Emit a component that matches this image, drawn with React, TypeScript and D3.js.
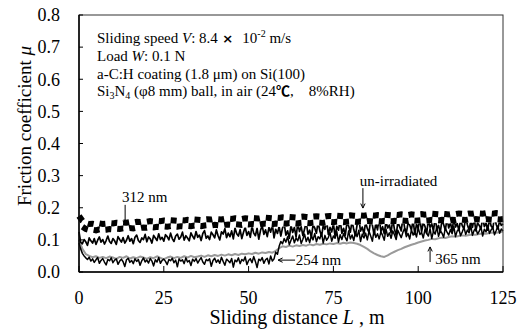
import React from 'react';
import * as d3 from 'd3';

// Sliding distance grids: every 1 m and every 0.5 m, 0..125
const distance1: number[] = d3.range(0, 125.001, 1);
const distanceHalf: number[] = d3.range(0, 125.001, 0.5);

// un-irradiated (checkered band centre), 1 m steps
const unIrradiated: number[] = [
  .165, .150, .143, .140, .141, .139, .142, .140, .141, .143,
  .142, .144, .143, .145, .144, .146, .145, .147, .146, .148,
  .147, .149, .148, .150, .149, .151, .150, .152, .151, .150,
  .152, .151, .153, .152, .154, .153, .152, .154, .155, .154,
  .156, .155, .154, .156, .157, .156, .158, .157, .156, .158,
  .157, .159, .158, .157, .159, .160, .159, .158, .160, .159,
  .161, .160, .162, .161, .160, .162, .163, .162, .161, .163,
  .164, .163, .162, .164, .165, .164, .166, .165, .164, .166,
  .167, .166, .165, .167, .166, .168, .167, .166, .168, .167,
  .169, .168, .167, .169, .168, .170, .169, .168, .170, .169,
  .170, .171, .169, .170, .172, .171, .170, .172, .171, .170,
  .172, .171, .173, .172, .171, .173, .172, .174, .173, .172,
  .174, .173, .172, .174, .173, .174,
];

// 312 nm irradiated, 0.5 m steps
const nm312: number[] = [
  .125, .092, .088, .101, .094, .083, .106, .097, .090, .104,
  .086, .099, .109, .093, .101, .087, .098, .112, .095, .089,
  .104, .097, .086, .110, .101, .093, .107, .090, .099, .113,
  .096, .104, .088, .108, .115, .098, .092, .106, .101, .117,
  .094, .109, .103, .090, .114, .106, .098, .119, .101, .108,
  .096, .116, .110, .100, .121, .104, .095, .112, .118, .102,
  .109, .124, .099, .113, .106, .097, .122, .111, .103, .126,
  .108, .115, .098, .120, .129, .105, .112, .101, .124, .116,
  .106, .131, .113, .100, .125, .118, .135, .107, .121, .110,
  .128, .103, .137, .119, .112, .132, .104, .124, .140, .114,
  .126, .108, .143, .121, .113, .136, .102, .129, .145, .117,
  .131, .110, .139, .124, .148, .106, .133, .120, .142, .112,
  .137, .150, .115, .128, .105, .146, .123, .139, .109, .152,
  .126, .141, .113, .134, .155, .118, .130, .108, .147, .137,
  .121, .157, .128, .112, .144, .133, .160, .117, .139, .125,
  .151, .110, .142, .130, .162, .120, .136, .115, .154, .143,
  .124, .159, .132, .113, .148, .166, .127, .140, .118, .156,
  .135, .123, .163, .145, .116, .152, .131, .168, .126, .141,
  .119, .158, .137, .147, .122, .165, .133, .114, .155, .142,
  .128, .170, .138, .121, .153, .146, .131, .162, .117, .149,
  .136, .167, .125, .154, .142, .120, .164, .139, .150, .127,
  .171, .133, .145, .123, .160, .148, .130, .166, .137, .155,
  .126, .169, .140, .151, .129, .163, .144, .134, .172, .147,
  .131, .158, .139, .168, .128, .153, .145, .133, .170, .141,
  .152, .130, .165, .143, .136, .171, .148, .134, .160, .145,
  .150,
];

// 254 nm irradiated, 0.5 m steps
const nm254: number[] = [
  .090, .072, .058, .050, .044, .039, .046, .034, .041, .030,
  .038, .045, .027, .036, .042, .031, .022, .039, .035, .044,
  .029, .037, .041, .024, .034, .040, .032, .017, .038, .043,
  .030, .036, .026, .041, .033, .039, .021, .035, .044, .031,
  .037, .028, .042, .034, .019, .038, .031, .045, .027, .036,
  .040, .033, .023, .039, .035, .043, .029, .037, .016, .041,
  .034, .038, .026, .044, .031, .036, .020, .040, .033, .042,
  .028, .037, .045, .031, .024, .039, .035, .041, .018, .036,
  .043, .030, .038, .027, .046, .033, .021, .040, .035, .029,
  .042, .015, .037, .032, .044, .026, .039, .034, .047, .023,
  .036, .041, .029, .048, .033, .014, .040, .035, .045, .027,
  .038, .043, .025, .050, .034, .041, .062, .055, .080, .095,
  .088, .104, .093, .110, .085, .099, .112, .091, .106, .097,
  .115, .089, .102, .118, .095, .108, .092, .113, .100, .120,
  .094, .110, .103, .122, .090, .114, .099, .107, .124, .096,
  .112, .105, .126, .093, .116, .101, .119, .108, .097, .128,
  .103, .115, .098, .124, .110, .130, .095, .118, .106, .121,
  .100, .127, .112, .096, .132, .108, .119, .103, .125, .114,
  .099, .134, .111, .122, .105, .128, .116, .101, .130, .118,
  .107, .124, .136, .110, .120, .103, .131, .115, .126, .109,
  .138, .117, .123, .106, .133, .120, .112, .135, .104, .127,
  .118, .140, .111, .129, .121, .108, .137, .124, .115, .132,
  .119, .142, .110, .128, .134, .113, .125, .139, .117, .131,
  .122, .144, .114, .130, .136, .118, .127, .141, .112, .133,
  .125, .145, .120, .131, .138, .116, .129, .143, .121, .134,
  .128,
];

// 365 nm irradiated (grey), 1 m steps
const nm365: number[] = [
  .100, .072, .056, .050, .046, .049, .044, .047, .043, .048,
  .045, .041, .047, .044, .049, .042, .046, .043, .048, .045,
  .041, .046, .043, .049, .044, .040, .045, .048, .043, .047,
  .044, .049, .045, .050, .046, .048, .051, .047, .052, .049,
  .053, .050, .054, .051, .055, .052, .056, .053, .057, .055,
  .058, .056, .060, .057, .061, .059, .062, .060, .066, .074,
  .080, .078, .082, .079, .083, .081, .084, .082, .086, .083,
  .087, .085, .088, .086, .089, .087, .090, .088, .091, .089,
  .092, .090, .088, .084, .078, .072, .064, .058, .053, .049,
  .047, .052, .058, .063, .068, .072, .077, .081, .085, .088,
  .092, .095, .098, .100, .103, .102, .105, .107, .106, .109,
  .111, .110, .112, .114, .113, .115, .117, .116, .118, .120,
  .119, .121, .123, .122, .124, .126,
];

const xTicks: number[] = [0, 25, 50, 75, 100, 125];
const yTicks: number[] = [0, 0.1, 0.2, 0.3, 0.4, 0.5, 0.6, 0.7, 0.8];

// Arrow annotations in data coordinates
type Ann = { label: string; x1: number; y1: number; x2: number; y2: number; lx: number; ly: number };
const annotations: Ann[] = [
  { label: '312 nm', x1: 13.6, y1: 0.209, x2: 13.6, y2: 0.146, lx: 12.7, ly: 0.218 },
  { label: 'un-irradiated', x1: 83.7, y1: 0.261, x2: 83.7, y2: 0.199, lx: 82.8, ly: 0.268 },
  { label: '254 nm', x1: 63.7, y1: 0.037, x2: 58.7, y2: 0.037, lx: 63.9, ly: 0.022 },
  { label: '365 nm', x1: 103.5, y1: 0.031, x2: 103.5, y2: 0.078, lx: 105.0, ly: 0.025 },
];

const W = 519;
const H = 336;
const X0 = 79, X1 = 503, Y0 = 272, Y1 = 15;
const FONT = "'Liberation Serif', 'Times New Roman', serif";

export default function App() {
  const x = d3.scaleLinear().domain([0, 125]).range([X0, X1]);
  const y = d3.scaleLinear().domain([0, 0.8]).range([Y0, Y1]);
  const line1 = d3
    .line<number>()
    .x((_, i) => x(distance1[i]))
    .y((d) => y(d));
  const lineHalf = d3
    .line<number>()
    .x((_, i) => x(distanceHalf[i]))
    .y((d) => y(d));

  const arrowHead = (a: Ann) => {
    const px = x(a.x2), py = y(a.y2);
    const ang = Math.atan2(py - y(a.y1), px - x(a.x1));
    const L = 5, s = 0.45;
    const p1 = [px - L * Math.cos(ang - s), py - L * Math.sin(ang - s)];
    const p2 = [px - L * Math.cos(ang + s), py - L * Math.sin(ang + s)];
    return `M${p1[0]},${p1[1]}L${px},${py}L${p2[0]},${p2[1]}`;
  };

  const checker = line1(unIrradiated) || '';

  return (
    <svg
      width={W}
      height={H}
      style={{ position: 'absolute', left: 0, top: 0, background: '#fff', fontFamily: FONT }}
    >
      <rect x={0} y={0} width={W} height={H} fill="#fff" />
      {/* data */}
      <path d={line1(nm365) || ''} fill="none" stroke="#9a9a9a" strokeWidth={2} strokeLinejoin="round" />
      <path d={lineHalf(nm254) || ''} fill="none" stroke="#000" strokeWidth={1.5} strokeLinejoin="round" />
      <path d={lineHalf(nm312) || ''} fill="none" stroke="#000" strokeWidth={1.7} strokeLinejoin="round" />
      <g>
        <path d={checker} fill="none" stroke="#fff" strokeWidth={12} />
        <path d={checker} transform="translate(0,-3)" fill="none" stroke="#000" strokeWidth={6} strokeDasharray="6 6" />
        <path
          d={checker}
          transform="translate(0,3)"
          fill="none"
          stroke="#000"
          strokeWidth={6}
          strokeDasharray="6 6"
          strokeDashoffset={6}
        />
      </g>

      {/* frame */}
      <rect x={X0} y={Y1} width={X1 - X0} height={Y0 - Y1} fill="none" stroke="#333" strokeWidth={1} />
      <line x1={X0} x2={X0} y1={Y1} y2={Y0} stroke="#000" strokeWidth={1.5} />
      <line x1={X0} x2={X1} y1={Y0} y2={Y0} stroke="#000" strokeWidth={1.5} />

      {/* y ticks */}
      {yTicks.map((t) => (
        <g key={'y' + t}>
          <line x1={X0} x2={X0 + 4} y1={y(t)} y2={y(t)} stroke="#000" strokeWidth={1} />
          <text x={60} y={y(t)} dy="0.35em" textAnchor="end" fontSize={18}>
            {t.toFixed(1)}
          </text>
        </g>
      ))}
      {/* x ticks */}
      {xTicks.map((t) => (
        <g key={'x' + t}>
          <line x1={x(t)} x2={x(t)} y1={Y0} y2={Y0 - 6} stroke="#000" strokeWidth={1} />
          <text x={x(t)} y={304} textAnchor="middle" fontSize={18}>
            {t}
          </text>
        </g>
      ))}

      {/* axis titles */}
      <text x={297} y={324} textAnchor="middle" fontSize={20}>
        Sliding distance <tspan fontStyle="italic">L</tspan> , m
      </text>
      <text transform="translate(31,126) rotate(-90)" textAnchor="middle" fontSize={19}>
        Friction coefficient <tspan fontStyle="italic">μ</tspan>
      </text>

      {/* condition text */}
      <g fontSize={15}>
        <text x={97} y={43}>
          Sliding speed <tspan fontStyle="italic">V</tspan>: 8.4
          <tspan fontFamily="'DejaVu Sans', sans-serif" fontWeight="bold" fontSize={13}>{'\u00a0×\u00a0\u00a0'}</tspan>10
          <tspan fontSize={10} dy={-6}>-2</tspan>
          <tspan dy={6}> m/s</tspan>
        </text>
        <text x={97} y={61}>
          Load <tspan fontStyle="italic">W</tspan>: 0.1 N
        </text>
        <text x={97} y={78.5}>a-C:H coating (1.8 μm) on Si(100)</text>
        <text x={97} y={95.5}>
          Si<tspan fontSize={10} dy={3}>3</tspan>
          <tspan dy={-3}>N</tspan>
          <tspan fontSize={10} dy={3}>4</tspan>
          <tspan dy={-3}> (φ8 mm) ball, in air (24</tspan>
          <tspan fontFamily="'Noto Sans CJK JP', sans-serif" fontWeight="bold" fontSize={14}>℃</tspan>
          <tspan>{',\u00a0\u00a0\u00a0 8%RH)'}</tspan>
        </text>
      </g>

      {/* annotations */}
      {annotations.map((a) => (
        <g key={a.label}>
          <line x1={x(a.x1)} y1={y(a.y1)} x2={x(a.x2)} y2={y(a.y2)} stroke="#000" strokeWidth={1} />
          <path d={arrowHead(a)} fill="none" stroke="#000" strokeWidth={1} />
          <text x={x(a.lx)} y={y(a.ly)} fontSize={15}>
            {a.label}
          </text>
        </g>
      ))}
    </svg>
  );
}
